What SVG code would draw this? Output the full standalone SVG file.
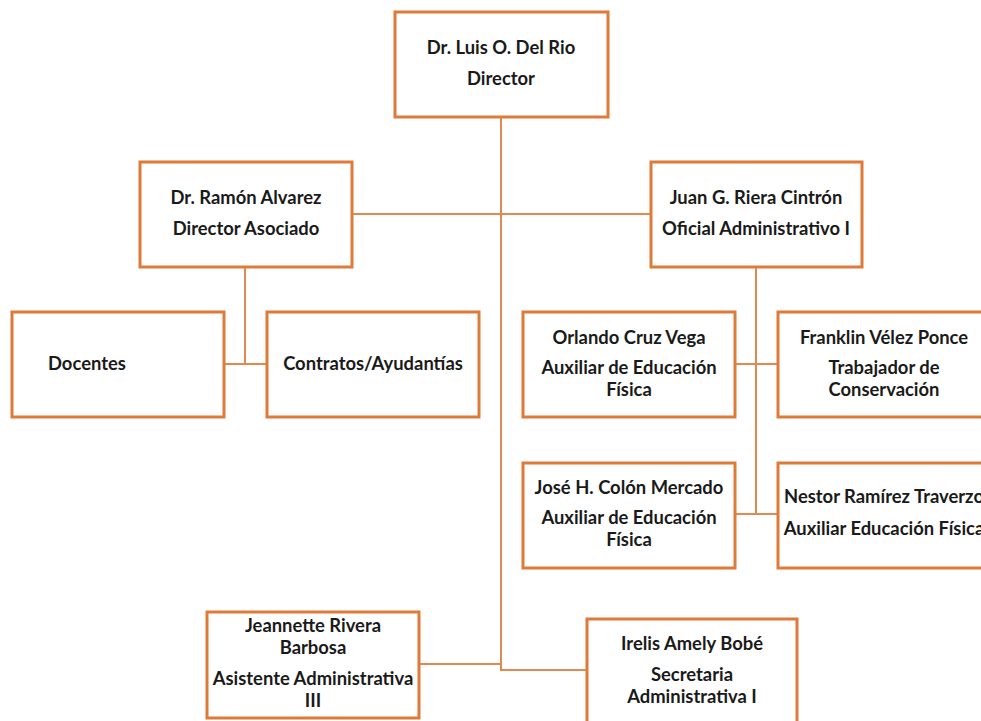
<svg xmlns="http://www.w3.org/2000/svg" width="981" height="721" viewBox="0 0 981 721">
<style>
.box{fill:#fff;stroke:#E07A38;stroke-width:3}
.ln{fill:none;stroke:#E08A52;stroke-width:2}
text{font-family:Lato,"Liberation Sans",sans-serif;font-weight:bold;font-size:18.4px;fill:#1a1a1a;text-anchor:middle}
</style>
<rect width="981" height="721" fill="#fff"/>
<g id="connectors">
<path class="ln" d="M501 117V670H587"/>
<path class="ln" d="M352 214H651"/>
<path class="ln" d="M245 267V364M224 364H267"/>
<path class="ln" d="M756 267V514M735 364H778M735 514H778"/>
<path class="ln" d="M419 664H501"/>
</g>
<g id="director"><rect class="box" x="395" y="12" width="213" height="105"/><text x="501" y="54">Dr. Luis O. Del Rio</text><text x="501" y="85">Director</text></g>
<g id="ramon"><rect class="box" x="140" y="162" width="212" height="105"/><text x="246" y="204">Dr. Ramón Alvarez</text><text x="246" y="235">Director Asociado</text></g>
<g id="juan"><rect class="box" x="651" y="162" width="211" height="105"/><text x="756" y="204">Juan G. Riera Cintrón</text><text x="756" y="235">Oficial Administrativo I</text></g>
<g id="docentes"><rect class="box" x="12" y="312" width="212" height="105"/><text x="48" y="370" style="text-anchor:start">Docentes</text></g>
<g id="contratos"><rect class="box" x="267" y="312" width="212" height="105"/><text x="373" y="370">Contratos/Ayudantías</text></g>
<g id="orlando"><rect class="box" x="523" y="312" width="212" height="105"/><text x="629" y="344">Orlando Cruz Vega</text><text x="629" y="374">Auxiliar de Educación</text><text x="629" y="396">Física</text></g>
<g id="franklin"><rect class="box" x="778" y="312" width="212" height="105"/><text x="884" y="344">Franklin Vélez Ponce</text><text x="884" y="374">Trabajador  de</text><text x="884" y="396">Conservación</text></g>
<g id="jose"><rect class="box" x="523" y="463" width="212" height="105"/><text x="629" y="494">José H. Colón Mercado</text><text x="629" y="524">Auxiliar de Educación</text><text x="629" y="546">Física</text></g>
<g id="nestor"><rect class="box" x="778" y="463" width="212" height="105"/><text x="884" y="503">Nestor Ramírez Traverzo</text><text x="884" y="535">Auxiliar Educación  Física</text></g>
<g id="jeannette"><rect class="box" x="207" y="612" width="212" height="106"/><text x="313" y="632">Jeannette Rivera</text><text x="313" y="654">Barbosa</text><text x="313" y="685">Asistente Administrativa</text><text x="313" y="707">III</text></g>
<g id="irelis"><rect class="box" x="587" y="619" width="210" height="110"/><text x="692" y="650">Irelis Amely Bobé</text><text x="692" y="681">Secretaria</text><text x="692" y="703">Administrativa  I</text></g>
</svg>
